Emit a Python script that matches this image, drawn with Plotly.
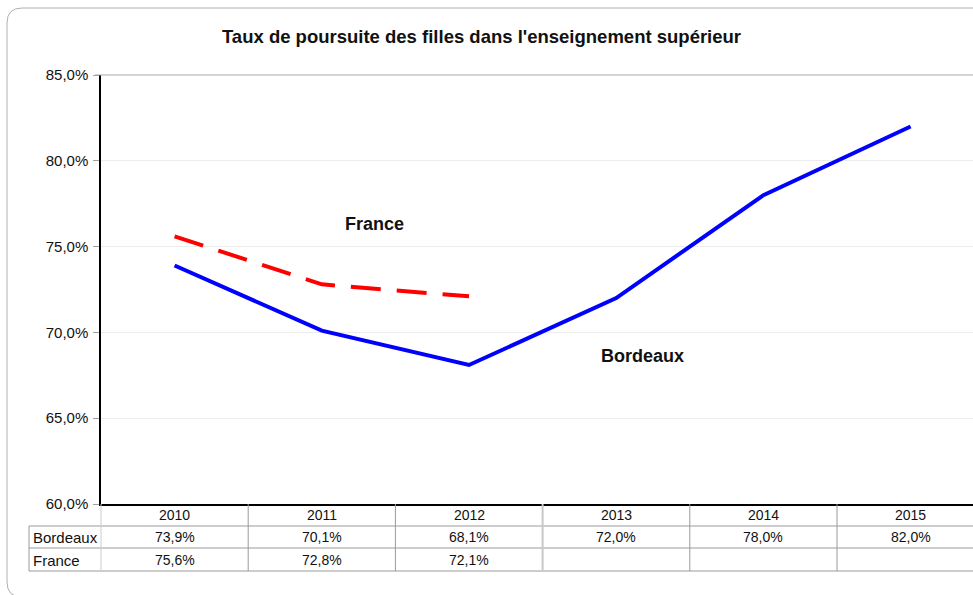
import plotly.graph_objects as go

years = ["2010", "2011", "2012", "2013", "2014", "2015"]
bordeaux = [73.9, 70.1, 68.1, 72.0, 78.0, 82.0]
france = [75.6, 72.8, 72.1, None, None, None]
y_ticks = [60, 65, 70, 75, 80, 85]

W, H = 973, 595
L, R, T, B = 101, 973, 75, 504


def px(x):
    return (x - L) / (R - L)


def py(y):
    return (B - y) / (B - T)


xs = list(range(len(years)))
col_w = 147.2
x_max = -0.5 + (R - L) / col_w

fig = go.Figure()
fig.add_trace(go.Scatter(x=xs, y=france, mode="lines", name="France",
                         line=dict(color="#ff0000", width=4, dash="30px,16px"),
                         connectgaps=False, hoverinfo="skip"))
fig.add_trace(go.Scatter(x=xs, y=bordeaux, mode="lines", name="Bordeaux",
                         line=dict(color="#0000ff", width=4), hoverinfo="skip"))

font = "Liberation Sans, Arial, Helvetica, sans-serif"
shapes = []
ann = []

# outer rounded frame
path = (f"M {px(990)},{py(8)} L {px(22)},{py(8)} Q {px(7)},{py(8)} {px(7)},{py(23)} "
        f"L {px(7)},{py(582)} Q {px(7)},{py(597)} {px(22)},{py(597)} L {px(990)},{py(597)}")
shapes.append(dict(type="path", xref="paper", yref="paper", path=path,
                   line=dict(color="#b0b0b0", width=1), layer="below"))

# top plot border (85%)
shapes.append(dict(type="line", xref="paper", yref="paper", x0=px(95), x1=1.02, y0=1, y1=1,
                   line=dict(color="#a8a8a8", width=1)))

# table lines
gray = "#9a9a9a"
for yy in (526, 548, 571):
    shapes.append(dict(type="line", xref="paper", yref="paper", x0=px(29), x1=1.02,
                       y0=py(yy), y1=py(yy), line=dict(color=gray, width=1)))
shapes.append(dict(type="line", xref="paper", yref="paper", x0=px(29), x1=px(29),
                   y0=py(526), y1=py(571), line=dict(color=gray, width=1)))
shapes.append(dict(type="line", xref="paper", yref="paper", x0=0, x1=0,
                   y0=py(504), y1=py(571), line=dict(color="#cccccc", width=1)))
for i in range(1, len(years)):
    shapes.append(dict(type="line", xref="x", yref="paper", x0=i - 0.5, x1=i - 0.5,
                       y0=py(504), y1=py(571),
                       line=dict(color="#c8c8c8" if i == 3 else gray, width=2 if i == 3 else 1)))

tf = dict(family=font, size=14, color="#111111")
lf = dict(family=font, size=15, color="#111111")
for i, yr in enumerate(years):
    ann.append(dict(x=i, y=py(515), xref="x", yref="paper", text=yr, showarrow=False,
                    font=tf, xanchor="center", yanchor="middle"))
    ann.append(dict(x=i, y=py(537), xref="x", yref="paper",
                    text=f"{bordeaux[i]:.1f}%".replace(".", ","), showarrow=False,
                    font=tf, xanchor="center", yanchor="middle"))
    if france[i] is not None:
        ann.append(dict(x=i, y=py(560), xref="x", yref="paper",
                        text=f"{france[i]:.1f}%".replace(".", ","), showarrow=False,
                        font=tf, xanchor="center", yanchor="middle"))
ann.append(dict(x=px(31), y=py(537), xref="paper", yref="paper", text="Bordeaux",
                showarrow=False, font=lf, xanchor="left", yanchor="middle"))
ann.append(dict(x=px(31), y=py(560), xref="paper", yref="paper", text="France",
                showarrow=False, font=lf, xanchor="left", yanchor="middle"))

bf = dict(family=font, size=18, color="#111111")
ann.append(dict(x=1.36, y=76.32, xref="x", yref="y", text="<b>France</b>", showarrow=False,
                font=bf, xanchor="center", yanchor="middle"))
ann.append(dict(x=3.18, y=68.62, xref="x", yref="y", text="<b>Bordeaux</b>", showarrow=False,
                font=bf, xanchor="center", yanchor="middle"))

fig.update_layout(
    width=W, height=H,
    margin=dict(l=L, r=W - R, t=T, b=H - B, pad=0),
    paper_bgcolor="white", plot_bgcolor="white",
    separators=", ",
    showlegend=False,
    title=dict(text="<b>Taux de poursuite des filles dans l'enseignement supérieur</b>",
               x=481.5 / W, xanchor="center", y=1 - 37 / H, yanchor="middle",
               font=dict(family=font, size=18.5, color="#111111")),
    xaxis=dict(range=[-0.5, x_max], showgrid=False, zeroline=False, showticklabels=False,
               ticks="", showline=True, linecolor="black", linewidth=1.5, fixedrange=True),
    yaxis=dict(range=[60, 85], tickvals=y_ticks, ticktext=[f"{v:.1f}%".replace(".", ",") for v in y_ticks],
               showgrid=True, gridcolor="#ececec", gridwidth=1, zeroline=False,
               showline=True, linecolor="black", linewidth=1.5,
               ticks="outside", ticklen=6, tickcolor="#a0a0a0",
               tickfont=dict(family=font, size=15, color="#111111"), ticklabelstandoff=2,
               fixedrange=True),
    shapes=shapes, annotations=ann,
)

fig.write_html("out.html", config={"displayModeBar": False},
               post_script="document.body.style.margin='0';document.body.style.overflow='hidden';")
